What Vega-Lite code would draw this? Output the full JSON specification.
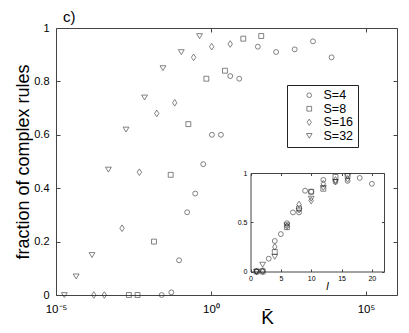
{
  "$schema": "https://vega.github.io/schema/vega-lite/v6.json",
  "width": 341,
  "height": 267,
  "autosize": "none",
  "padding": {"left": 56, "top": 28, "right": 12, "bottom": 38},
  "background": "white",
  "title": {"text": "c)", "anchor": "start", "frame": "group", "dx": 7, "offset": -3, "fontSize": 15, "fontWeight": "normal", "font": "Liberation Sans", "color": "black"},
  "config": {
    "view": {"stroke": "#444", "strokeWidth": 1},
    "font": "Liberation Sans",
    "axis": {"grid": false, "labelFlush": false, "labelFont": "Liberation Sans", "labelColor": "black", "tickColor": "#444", "domainColor": "#444", "titleFont": "Liberation Sans", "titleFontWeight": "normal", "titleColor": "black"}
  },
  "data": {"values": [
    {"S": "S=4", "l": 1, "K": 0.0257, "f": 0},
    {"S": "S=4", "l": 2, "K": 0.0525, "f": 0.01},
    {"S": "S=4", "l": 3, "K": 0.0933, "f": 0.13},
    {"S": "S=4", "l": 4, "K": 0.17, "f": 0.31},
    {"S": "S=4", "l": 5, "K": 0.309, "f": 0.38},
    {"S": "S=4", "l": 6, "K": 0.562, "f": 0.49},
    {"S": "S=4", "l": 7, "K": 1.07, "f": 0.6},
    {"S": "S=4", "l": 8, "K": 2.09, "f": 0.6},
    {"S": "S=4", "l": 9, "K": 4.17, "f": 0.82},
    {"S": "S=4", "l": 10, "K": 8.13, "f": 0.81},
    {"S": "S=4", "l": 12, "K": 32.4, "f": 0.93},
    {"S": "S=4", "l": 14, "K": 126, "f": 0.91},
    {"S": "S=4", "l": 16, "K": 501, "f": 0.92},
    {"S": "S=4", "l": 18, "K": 1950, "f": 0.95},
    {"S": "S=4", "l": 20, "K": 7760, "f": 0.89},
    {"S": "S=8", "l": 1, "K": 0.00224, "f": 0},
    {"S": "S=8", "l": 2, "K": 0.00427, "f": 0},
    {"S": "S=8", "l": 4, "K": 0.0145, "f": 0.2},
    {"S": "S=8", "l": 6, "K": 0.0501, "f": 0.45},
    {"S": "S=8", "l": 8, "K": 0.186, "f": 0.64},
    {"S": "S=8", "l": 10, "K": 0.708, "f": 0.81},
    {"S": "S=8", "l": 12, "K": 2.82, "f": 0.84},
    {"S": "S=8", "l": 14, "K": 11.0, "f": 0.96},
    {"S": "S=8", "l": 16, "K": 41.7, "f": 0.97},
    {"S": "S=16", "l": 1, "K": 0.000166, "f": 0},
    {"S": "S=16", "l": 2, "K": 0.000363, "f": 0},
    {"S": "S=16", "l": 4, "K": 0.00135, "f": 0.25},
    {"S": "S=16", "l": 6, "K": 0.0049, "f": 0.46},
    {"S": "S=16", "l": 8, "K": 0.0178, "f": 0.68},
    {"S": "S=16", "l": 10, "K": 0.0676, "f": 0.72},
    {"S": "S=16", "l": 12, "K": 0.275, "f": 0.89},
    {"S": "S=16", "l": 14, "K": 1.05, "f": 0.93},
    {"S": "S=16", "l": 16, "K": 4.17, "f": 0.94},
    {"S": "S=32", "l": 1, "K": 0.0000186, "f": 0},
    {"S": "S=32", "l": 2, "K": 0.0000447, "f": 0.07},
    {"S": "S=32", "l": 4, "K": 0.000145, "f": 0.15},
    {"S": "S=32", "l": 6, "K": 0.00049, "f": 0.47},
    {"S": "S=32", "l": 8, "K": 0.00182, "f": 0.62},
    {"S": "S=32", "l": 10, "K": 0.0072, "f": 0.74},
    {"S": "S=32", "l": 12, "K": 0.0282, "f": 0.85},
    {"S": "S=32", "l": 14, "K": 0.11, "f": 0.91},
    {"S": "S=32", "l": 16, "K": 0.427, "f": 0.97}
  ]},
  "resolve": {
    "scale": {"x": "independent", "y": "independent", "shape": "independent"},
    "axis": {"x": "independent", "y": "independent"},
    "legend": {"shape": "independent"}
  },
  "layer": [
    {
      "mark": {"type": "point", "filled": false, "color": "#222", "strokeWidth": 0.8, "size": 24},
      "encoding": {
        "x": {"field": "K", "type": "quantitative",
          "scale": {"type": "log", "domain": [0.00001, 1000000], "nice": false},
          "axis": {"orient": "bottom", "values": [0.00001, 1, 100000], "labelExpr": "datum.value < 0.001 ? '10⁻⁵' : datum.value < 10 ? '10⁰' : '10⁵'", "labelFontSize": 11.5, "tickSize": -4, "labelPadding": 12, "domain": false, "title": "K̄", "titleFontSize": 19, "titleX": 211, "titleY": 28, "titleBaseline": "alphabetic", "titleAlign": "center"}},
        "y": {"field": "f", "type": "quantitative",
          "scale": {"domain": [0, 1], "nice": false, "zero": false},
          "axis": {"orient": "left", "values": [0, 0.2, 0.4, 0.6, 0.8, 1], "format": "~g", "labelFontSize": 11, "tickSize": -4, "labelPadding": 11, "domain": false, "title": "fraction of complex rules", "titleFontSize": 18, "titleX": -28, "titleY": 133.5, "titleBaseline": "alphabetic", "titleAngle": -90, "titleAlign": "center"}},
        "shape": {"field": "S", "type": "nominal",
          "scale": {"domain": ["S=4", "S=8", "S=16", "S=32"], "range": ["circle", "square", "M0,-1.35L0.9,0L0,1.35L-0.9,0Z", "M-1.2,-0.95L1.2,-0.95L0,1.05Z"]},
          "legend": {"orient": "none", "legendX": 231, "legendY": 57, "title": "   ", "titleOrient": "left", "titleFontSize": 12, "titlePadding": 12, "padding": 4, "strokeColor": "#222", "fillColor": "white", "labelFontSize": 12.5, "labelFont": "Liberation Sans", "labelColor": "black", "symbolSize": 22, "symbolStrokeColor": "#222", "symbolStrokeWidth": 0.8, "labelOffset": 8, "rowPadding": 0.5, "labelExpr": "datum.label + '   '"}}
      }
    },
    {
      "mark": {"type": "point", "opacity": 0},
      "encoding": {
        "x": {"field": "K", "type": "quantitative",
          "scale": {"type": "log", "domain": [0.00001, 1000000], "nice": false},
          "axis": {"orient": "top", "values": [1, 100000], "labels": false, "tickSize": -4, "domain": false, "title": null}},
        "y": {"field": "f", "type": "quantitative",
          "scale": {"domain": [0, 1], "nice": false, "zero": false},
          "axis": {"orient": "right", "values": [0, 0.2, 0.4, 0.6, 0.8, 1], "labels": false, "tickSize": -4, "domain": false, "title": null}}
      }
    },
    {
      "mark": {"type": "point", "filled": false, "color": "#222", "strokeWidth": 0.8, "size": 24},
      "encoding": {
        "x": {"field": "l", "type": "quantitative",
          "scale": {"domain": [0, 22], "range": [194.5, 328], "nice": false, "zero": false},
          "axis": {"orient": "bottom", "offset": -23.5, "values": [0, 5, 10, 15, 20], "labelFontSize": 7, "tickSize": -2.5, "labelPadding": 5, "domain": true, "title": "l", "titleFontStyle": "italic", "titleFontSize": 11, "titleX": 271, "titleY": 15, "titleBaseline": "middle", "titleAlign": "center"}},
        "y": {"field": "f", "type": "quantitative",
          "scale": {"domain": [0, 1], "range": [243.5, 145], "nice": false, "zero": false},
          "axis": {"orient": "left", "offset": -194.5, "values": [0, 0.5, 1], "format": "~g", "labelFontSize": 7, "tickSize": -2.5, "labelPadding": 6, "domain": true, "title": null}},
        "shape": {"field": "S", "type": "nominal",
          "scale": {"domain": ["S=4", "S=8", "S=16", "S=32"], "range": ["circle", "square", "M0,-1.35L0.9,0L0,1.35L-0.9,0Z", "M-1.2,-0.95L1.2,-0.95L0,1.05Z"]},
          "legend": null}
      }
    },
    {
      "mark": {"type": "point", "opacity": 0},
      "encoding": {
        "x": {"field": "l", "type": "quantitative",
          "scale": {"domain": [0, 22], "range": [194.5, 328], "nice": false, "zero": false},
          "axis": {"orient": "top", "offset": -145, "values": [0, 5, 10, 15, 20], "labels": false, "tickSize": -2.5, "domain": true, "title": null}},
        "y": {"field": "f", "type": "quantitative",
          "scale": {"domain": [0, 1], "range": [243.5, 145], "nice": false, "zero": false},
          "axis": {"orient": "right", "offset": -13, "values": [0, 0.5, 1], "labels": false, "tickSize": -2.5, "domain": true, "title": null}}
      }
    }
  ]
}
